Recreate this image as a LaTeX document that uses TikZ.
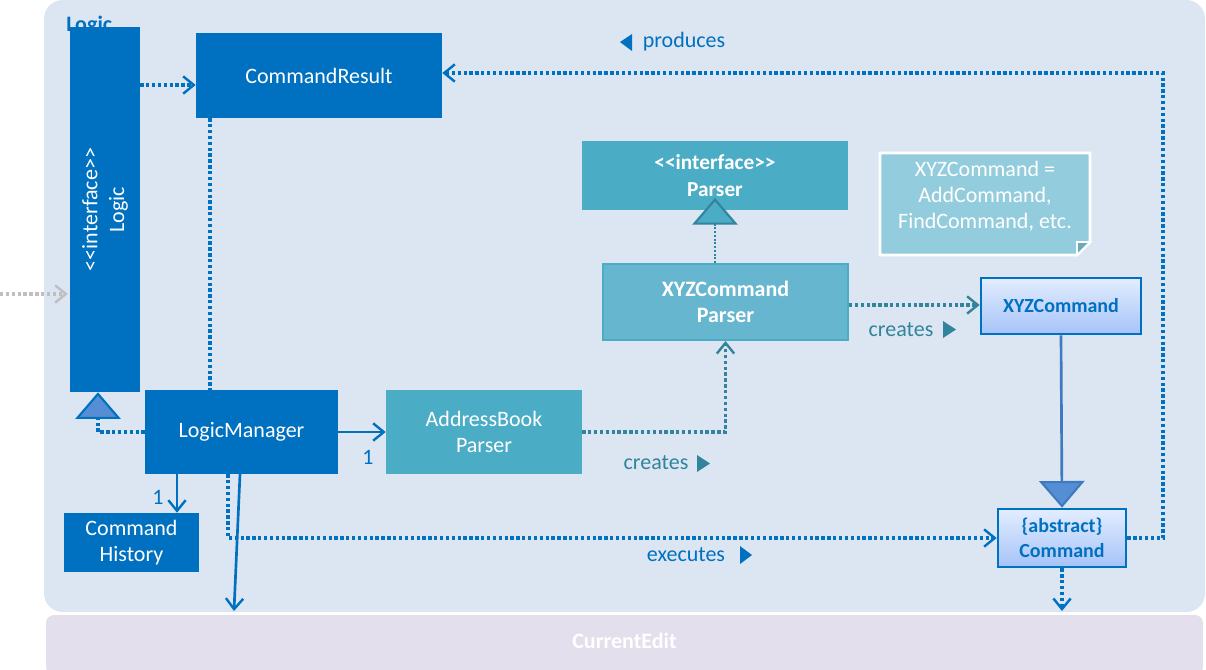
\documentclass[tikz,border=0pt]{standalone}
\usepackage{fontspec}
\setmainfont{Carlito}[Ligatures=TeXOff]
\usetikzlibrary{arrows.meta,calc}
\definecolor{dkblue}{HTML}{0070C0}
\definecolor{pkg}{HTML}{DCE6F2}
\definecolor{tealbox}{HTML}{4BACC6}
\definecolor{tealfill}{HTML}{67B6CF}
\definecolor{tealdk}{HTML}{31849B}
\definecolor{notec}{HTML}{93CDDD}
\definecolor{notefold}{HTML}{6FA9B9}
\definecolor{trifill}{HTML}{558ED5}
\definecolor{cebg}{HTML}{E4DFEC}
\definecolor{gtop}{HTML}{E2EDFF}
\definecolor{gbot}{HTML}{A6C3F8}
\definecolor{genline}{HTML}{3F7AC0}
\definecolor{grayarr}{HTML}{BFBFBF}
\begin{document}
\begin{tikzpicture}[x=0.75pt,y=-0.75pt,
  every node/.style={font=\fontsize{16.5}{20}\selectfont},
  sz/.style 2 args={minimum width=#1*0.75pt,minimum height=#2*0.75pt},
  dk/.style={fill=dkblue,text=white,inner sep=0pt,align=center},
  tlbox/.style={fill=tealbox,text=white,inner sep=0pt,align=center},
  cls/.style={draw=dkblue,line width=2pt,top color=gtop,bottom color=gbot,text=dkblue,inner sep=0pt,align=center,font=\fontsize{15}{19}\selectfont\bfseries},
  dotl/.style={line width=2.5pt,dash pattern=on 2.5pt off 1.9pt},
  vtip/.style={-{Straight Barb[length=8pt,width=13pt,line width=1.8pt]}},
  gentip/.style={-{Triangle[length=20pt,width=34pt,fill=#1,line width=1.6pt]}},
  lbl/.style={inner sep=0pt},
]
\useasboundingbox (0,0) rectangle (1206,669);
% package frame
\fill[pkg,rounded corners=14pt] (44,0) rectangle (1205,612);
\node[lbl,anchor=north west,text=dkblue,font=\fontsize{16.5}{20}\selectfont\bfseries] (pkglbl) at (66,16) {Logic};
% CurrentEdit
\node[fill=cebg,rounded corners=6pt,sz={1157}{60},inner sep=0pt] (ce) at (624.5,645) {};
\node[lbl,text=white,font=\fontsize{16.5}{20}\selectfont\bfseries] (celbl) at (624.5,641) {CurrentEdit};
% boxes
\node[dk,sz={70}{365}] (logic) at (105,209.5) {};
\node[lbl,text=white,rotate=90,align=center] (logiclbl) at (logic.center) {<<interface>>\\Logic};
\node[dk,sz={246}{85}] (cr) at (319,75.5) {CommandResult};
\node[dk,sz={193}{84}] (lm) at (241.5,432) {LogicManager};
\node[dk,sz={135}{59}] (ch) at (131.5,542.5) {Command\\History};
\node[tlbox,sz={196}{84}] (abp) at (484,432) {AddressBook\\Parser};
\node[tlbox,sz={266}{69},font=\fontsize{16}{20}\selectfont\bfseries] (parser) at (715,175.5) {<<interface>>\\Parser};
\node[fill=tealfill,draw=tealbox,line width=1.5pt,text=white,inner sep=0pt,align=center,sz={245}{76},font=\fontsize{16.5}{20}\selectfont\bfseries] (xyzcp) at (725.5,302) {XYZCommand\\Parser};
\node[cls,sz={160}{56}] (xyzc) at (1061,306) {XYZCommand};
\node[cls,sz={128}{58}] (cmd) at (1062,538) {\{abstract\}\\Command};
% note
\filldraw[fill=notec,draw=white,line width=2.2pt] (880,153) -- (1090,153) -- (1090,242) -- (1077,255) -- (880,255) -- cycle;
\filldraw[fill=notefold,draw=white,line width=1.2pt] (1090,242) -- (1077,242) -- (1077,255) -- cycle;
\node[lbl,text=white,align=center,font=\fontsize{16.5}{19.5}\selectfont] (note) at (985,196) {XYZCommand =\\AddCommand,\\FindCommand, etc.};
% helper coordinates
\coordinate (y85) at (0,85);
\coordinate (x210) at (210,0);
\coordinate (x98) at (98,0);
\coordinate (x177) at (177,0);
\coordinate (x228) at (228,0);
\coordinate (lmce) at (240,474);
\coordinate (ceend) at (234,611);
\coordinate (ptip) at (715,198);
\coordinate (x715) at (715,0);
\coordinate (y305) at (0,305);
\coordinate (c1163) at (1163,73);
\coordinate (gin) at (0,294);
% connectors
\draw[dotl,grayarr,vtip] (gin) -- ([xshift=-1.5pt]logic.west |- gin);
\draw[dotl,dkblue,vtip] (logic.east |- y85) -- (cr.west |- y85);
\draw[dotl,dkblue] (cr.south -| x210) -- (lm.north -| x210);
\draw[dotl,dkblue,gentip=trifill] (lm.west) -| (logic.south -| x98);
\draw[line width=2pt,dkblue,vtip] (lm.east) -- (abp.west);
\draw[line width=2pt,dkblue,vtip] (lm.south -| x177) -- (ch.north -| x177);
\draw[dotl,tealdk,vtip] (abp.east) -| (xyzcp.south);
\draw[line width=1.5pt,dash pattern=on 1.5pt off 1.3pt,tealdk,gentip=tealbox] (xyzcp.north -| x715) -- (ptip);
\draw[dotl,tealdk,vtip] (xyzcp.east |- y305) -- (xyzc.west |- y305);
\draw[line width=2pt,genline,gentip=trifill] (xyzc.south) -- (cmd.north);
\draw[dotl,dkblue,vtip] (lm.south -| x228) |- (cmd.west);
\draw[dotl,dkblue,vtip] (cmd.east) -| (c1163) -- (cr.east |- c1163);
\draw[line width=2pt,dkblue,vtip] (lmce) -- (ceend);
\draw[dotl,dkblue,vtip] (cmd.south) -- (cmd.south |- ceend);
% labels
\node[lbl,text=dkblue] (one1) at (368,457) {1};
\node[lbl,text=dkblue] (one2) at (158,497) {1};
\node[lbl,text=dkblue] (prod) at (684,42) {produces};
\fill[dkblue] (620,42) -- (632,34) -- (632,51) -- cycle;
\node[lbl,text=tealdk] (cr1) at (656,463) {creates};
\fill[tealdk] (697,455) -- (697,472) -- (710,463.5) -- cycle;
\node[lbl,text=tealdk] (cr2) at (901,330) {creates};
\fill[tealdk] (943,321) -- (943,338) -- (956,329.5) -- cycle;
\node[lbl,text=dkblue] (exe) at (686,555) {executes};
\fill[dkblue] (740,546) -- (740,564) -- (752,555) -- cycle;
\end{tikzpicture}
\end{document}
